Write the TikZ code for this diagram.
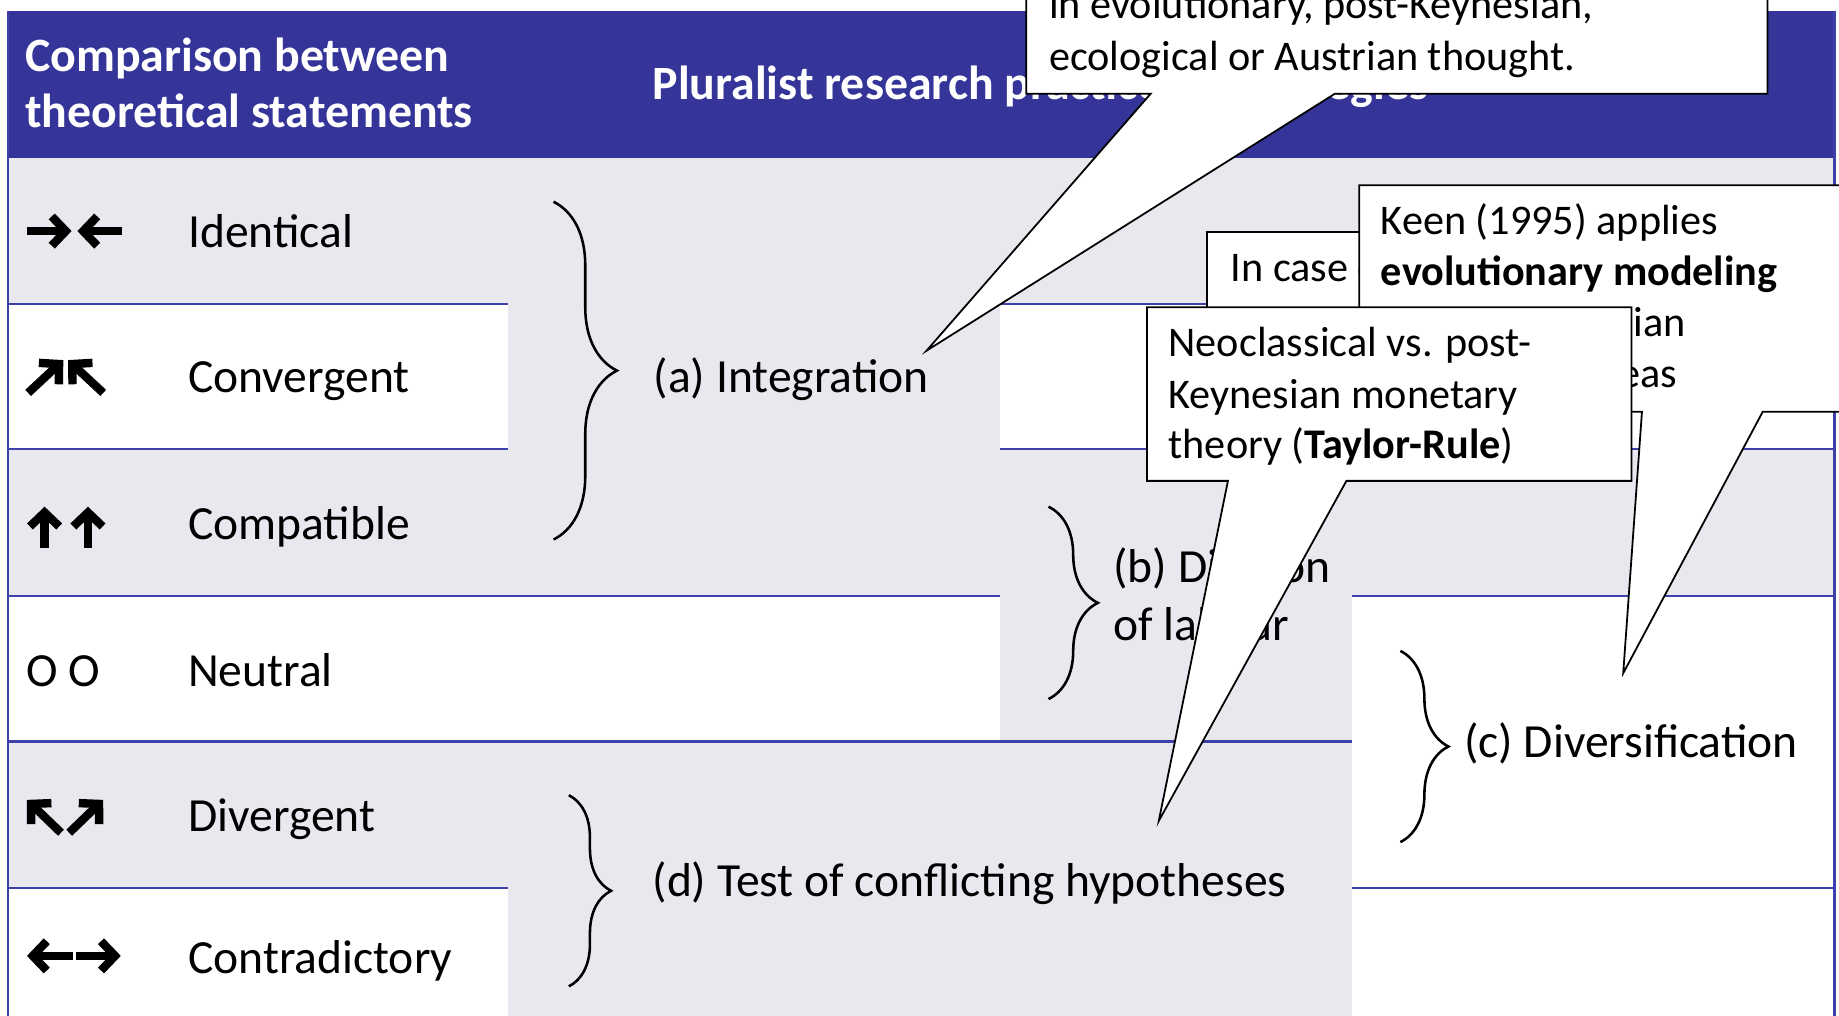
\documentclass[tikz,border=0pt]{standalone}
\usepackage{fontspec}
\setmainfont{Carlito}
\usetikzlibrary{arrows.meta,decorations.pathreplacing}
\definecolor{headblue}{RGB}{53,53,153}
\definecolor{ruleblue}{RGB}{62,64,172}
\definecolor{rowgrey}{RGB}{232,232,238}
\newcommand{\bodysize}{\fontsize{18.7}{22}\selectfont}
\newcommand{\headsize}{\fontsize{18.8}{22}\selectfont}
\newcommand{\notesize}{\fontsize{16.6}{20}\selectfont}

\begin{document}
\begin{tikzpicture}[x=0.0162cm, y=-0.0162cm,
    txt/.style={anchor=base west, inner sep=0pt, font=\bodysize},
    note/.style={anchor=base west, inner sep=0pt, font=\notesize},
    head/.style={anchor=base west, inner sep=0pt, font=\headsize\bfseries, text=white},
    rule/.style={ruleblue, line width=1pt},
    sym/.style={line width=3.3pt, -{Straight Barb[length=5.5pt, width=11.5pt]}},
    curly/.style={decorate, decoration={brace, amplitude=#1}, line width=1pt},
    callout/.style={draw=black, fill=white, line width=0.7pt, line join=miter}]

    \clip (0,0) rectangle (1568,866);
    \fill[white] (0,0) rectangle (1568,866);

    \fill[headblue] (7,9) rectangle (1565,135);
    \fill[rowgrey] (7,135) rectangle (1563,259);
    \fill[rowgrey] (7,383) rectangle (433,508);
    \fill[rowgrey] (7,632) rectangle (433,757);
    \fill[rowgrey] (433,135) rectangle (853,508);
    \fill[rowgrey] (853,383) rectangle (1563,508);
    \fill[rowgrey] (853,508) rectangle (1153,632);
    \fill[rowgrey] (433,632) rectangle (1153,880);

    \draw[rule] (7,259) -- (433,259) (853,259) -- (1563,259);
    \draw[rule] (7,383) -- (433,383) (853,383) -- (1563,383);
    \draw[rule] (7,508) -- (853,508) (1153,508) -- (1563,508);
    \draw[rule] (7,632) -- (1153,632);
    \draw[rule] (7,757) -- (433,757) (1153,757) -- (1563,757);
    \draw[rule] (7,9) -- (7,880) (1564,9) -- (1564,880);

    \node[head] (hcomp1) at (21,61) {Comparison between};
    \node[head] (hcomp2) at (21,109) {theoretical statements};
    \node[head] (hplural) at (556,85) {Pluralist research practices \& strategies};

    \draw[sym] (23,197) -- (61,197);
    \draw[sym] (104,197) -- (66,197);
    \draw[sym] (24,335) -- (54,307);
    \draw[sym] (88,335) -- (58,307);
    \draw[sym] (38,467) -- (38,432);
    \draw[sym] (75,467) -- (75,432);
    \draw[sym] (52,710) -- (23,682);
    \draw[sym] (59,710) -- (88,682);
    \draw[sym] (62,815) -- (23,815);
    \draw[sym] (65,815) -- (103,815);
    \node[txt] (neutralsym) at (22,585) {O O};

    \node[txt] (identical) at (160,211) {Identical};
    \node[txt] (convergent) at (160,335) {Convergent};
    \node[txt] (compatible) at (160,460) {Compatible};
    \node[txt] (neutral) at (160,585) {Neutral};
    \node[txt] (divergent) at (160,709) {Divergent};
    \node[txt] (contradictory) at (160,830) {Contradictory};

    \draw[curly=24.9pt] (472,172) -- (472,460);
    \draw[curly=19.4pt] (894,432) -- (894,596);
    \draw[curly=18.9pt] (1194,555) -- (1194,718);
    \draw[curly=16.6pt] (485,678) -- (485,841);

    \node[txt] (integration) at (557,335) {(a) Integration};
    \node[txt] (division1) at (949,497) {(b) Division};
    \node[txt] (division2) at (949,546) {of labour};
    \node[txt] (diversification) at (1248,646) {(c) Diversification};
    \node[txt] (conflict) at (556,764) {(d) Test of conflicting hypotheses};

    \coordinate (tipevo) at (790,299);
    \draw[callout] (875,-80) -- (1507,-80) -- (1507,80) -- (1138,80) -- (tipevo) -- (981,80) -- (875,80) -- cycle;
    \node[note] (evo1) at (894,16) {in evolutionary, post-Keynesian,};
    \node[note] (evo2) at (894,60) {ecological or Austrian thought.};

    \draw[callout] (1029,198) rectangle (1300,380);
    \node[note] (case1) at (1049,240) {In case of};

    \coordinate (tipkeen) at (1384,574);
    \draw[callout] (1159,158) -- (1620,158) -- (1620,351) -- (1503,351) -- (tipkeen) -- (1400,351) -- (1159,351) -- cycle;
    \node[note] (keen1) at (1177,200) {Keen (1995) applies};
    \node[note] (keen2) at (1177,243) {\textbf{evolutionary modeling}};
    \node[note] (keen3) at (1177,287) {to post-Keynesian};
    \node[note] (keen4) at (1177,330) {and Minsky ideas};

    \coordinate (tipneo) at (988,700);
    \draw[callout] (978,262) -- (1391,262) -- (1391,410) -- (1148,410) -- (tipneo) -- (1047,410) -- (978,410) -- cycle;
    \node[note] (neo1) at (996,304) {Neoclassical vs. post-};
    \node[note] (neo2) at (996,348) {Keynesian monetary};
    \node[note] (neo3) at (996,391) {theory (\textbf{Taylor-Rule})};
\end{tikzpicture}
\end{document}
